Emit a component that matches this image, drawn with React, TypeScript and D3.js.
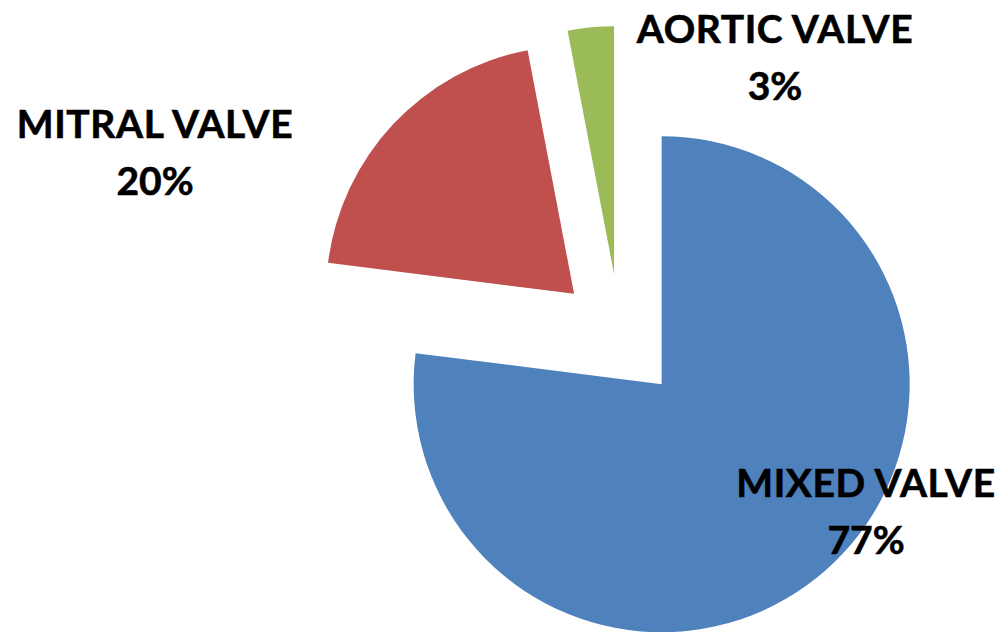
import React from "react";
import * as d3 from "d3";

const categories = ["MIXED VALVE", "MITRAL VALVE", "AORTIC VALVE"];
const values = [77, 20, 3];
const colors = ["#4F81BD", "#C0504D", "#9BBB59"];
// label centres (Excel "best fit" placement)
const labelPos = [
  [866, 497],
  [155, 138],
  [775, 43],
];

const width = 1005;
const height = 632;
const cx = 620;
const cy = 337;
const radius = 248;
const explode = 63;

export default function App() {
  const pie = d3
    .pie<number>()
    .sort(null)
    .startAngle(0)
    .endAngle(2 * Math.PI)(values);
  const arc = d3.arc<d3.PieArcDatum<number>>().innerRadius(0).outerRadius(radius);

  return (
    <svg
      width={width}
      height={height}
      style={{ position: "absolute", left: 0, top: 0, background: "#fff" }}
    >
      <g transform={`translate(${cx},${cy})`}>
        {pie.map((d, i) => {
          const mid = (d.startAngle + d.endAngle) / 2;
          const dx = Math.sin(mid) * explode;
          const dy = -Math.cos(mid) * explode;
          return (
            <path
              key={categories[i]}
              d={arc(d) || ""}
              transform={`translate(${dx},${dy})`}
              fill={colors[i]}
            />
          );
        })}
      </g>
      {categories.map((c, i) => (
        <text
          key={c}
          x={labelPos[i][0]}
          y={labelPos[i][1]}
          textAnchor="middle"
          fontFamily="Lato, 'Open Sans', sans-serif"
          fontWeight="bold"
          fontSize={39}
          fill="#000"
          stroke="#000"
          strokeWidth={0.6}
        >
          <tspan x={labelPos[i][0]} letterSpacing={0.6}>{c}</tspan>
          <tspan x={labelPos[i][0]} dy={57}>
            {values[i]}%
          </tspan>
        </text>
      ))}
    </svg>
  );
}
